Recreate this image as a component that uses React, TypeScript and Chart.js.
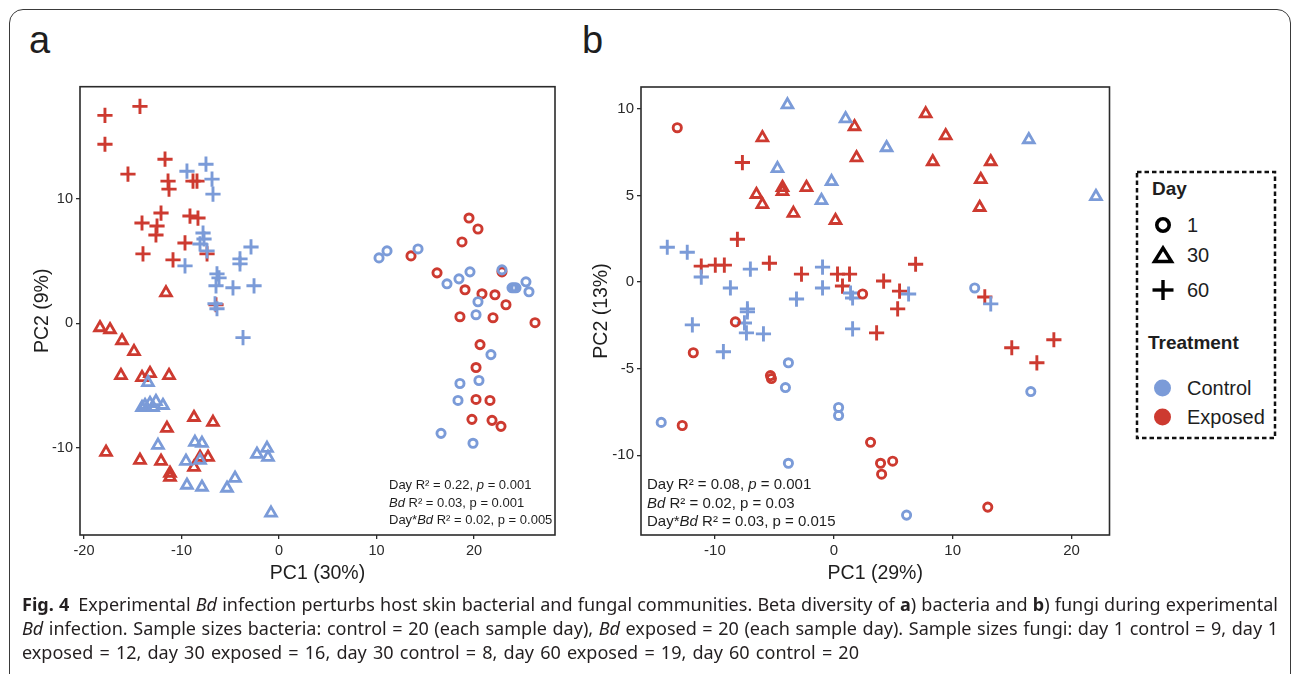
import React, { useEffect, useRef, useLayoutEffect, useState } from 'react';
import { Chart, registerables } from 'chart.js';

Chart.register(...registerables);

type Pt = [number, number];

const CONTROL_COLOR = '#7B9BD8';
const EXPOSED_COLOR = '#CD3A30';
const FONT = "'Liberation Sans', Arial, Helvetica, sans-serif";
const INK = '#1e1e1e';

// ---------- tick labels ----------
const bacXTicks = [-20, -10, 0, 10, 20];
const bacYTicks = [-10, 0, 10];
const funXTicks = [-10, 0, 10, 20];
const funYTicks = [-10, -5, 0, 5, 10];

// ---------- panel a: bacteria ----------
const bacControlDay1: Pt[] = [
  [10.26, 5.26], [11.08, 5.82], [14.26, 5.98], [17.23, 3.18], [18.46, 3.58],
  [19.59, 4.14], [22.87, 4.3], [23.9, 2.86], [24.31, 2.86], [25.33, 3.34],
  [25.64, 2.54], [20.41, 1.74], [20.21, 0.7], [21.74, -2.5], [20.51, -4.58],
  [18.56, -4.82], [18.36, -6.18], [16.62, -8.82], [19.9, -9.62], [24.1, 2.86],
];
const bacExposedDay1: Pt[] = [
  [19.49, 8.46], [20.41, 7.58], [18.77, 6.54], [13.54, 5.42], [16.21, 4.06],
  [22.87, 4.14], [19.08, 2.7], [20.82, 2.38], [22.15, 2.3], [23.28, 1.5],
  [18.56, 0.54], [21.95, 0.46], [26.26, 0.06], [20.62, -1.7], [20.21, -3.54],
  [20.21, -6.1], [21.64, -6.18], [19.79, -7.7], [21.85, -7.78], [22.77, -8.26],
];
const bacControlDay30: Pt[] = [
  [-13.44, -4.74], [-13.74, -6.58], [-13.23, -6.42], [-12.62, -6.26], [-11.9, -6.58],
  [-12.41, -9.78], [-8.62, -9.54], [-7.9, -9.62], [-9.54, -11.06], [-8.1, -10.98],
  [-9.44, -12.98], [-7.9, -13.14], [-4.51, -12.42], [-5.33, -13.22], [-2.26, -10.5],
  [-1.23, -10.02], [-1.13, -10.74], [-0.82, -15.22], [-14.05, -6.74], [-12.92, -6.74],
];
const bacExposedDay30: Pt[] = [
  [-11.59, 2.46], [-18.36, -0.34], [-17.33, -0.5], [-16.1, -1.38], [-14.87, -2.26],
  [-16.21, -4.18], [-14.05, -4.34], [-13.23, -4.02], [-11.28, -4.18], [-8.72, -7.54],
  [-6.77, -7.94], [-11.49, -8.42], [-17.74, -10.34], [-14.26, -10.98], [-12.1, -11.06],
  [-8.72, -11.54], [-8.1, -10.74], [-7.28, -10.74], [-11.18, -12.34], [-11.18, -12.02],
];
const bacControlDay60: Pt[] = [
  [-9.44, 12.22], [-7.49, 12.78], [-6.87, 11.58], [-6.77, 10.38], [-7.79, 7.26],
  [-8.1, 6.38], [-7.38, 5.82], [-9.64, 4.62], [-4.0, 5.18], [-2.87, 6.14],
  [-4.0, 4.78], [-6.36, 3.98], [-6.15, 3.66], [-6.46, 3.02], [-4.72, 2.86],
  [-2.56, 3.02], [-6.56, 1.58], [-6.36, 1.18], [-3.69, -1.14], [-7.69, 6.78],
];
const bacExposedDay60: Pt[] = [
  [-17.85, 16.7], [-14.26, 17.42], [-17.85, 14.38], [-11.69, 13.18], [-15.49, 11.98],
  [-11.38, 11.42], [-11.28, 10.78], [-8.82, 11.42], [-8.41, 11.42], [-12.1, 8.86],
  [-14.05, 8.06], [-12.51, 7.82], [-12.62, 7.1], [-9.13, 8.62], [-8.31, 8.46],
  [-9.64, 6.46], [-7.38, 5.58], [-13.95, 5.58], [-10.87, 5.1], [-6.46, 1.5],
];

// ---------- panel b: fungi ----------
const funControlDay1: Pt[] = [
  [-3.82, -4.66], [-4.07, -6.09], [-14.52, -8.1], [0.4, -7.24], [0.4, -7.7],
  [-3.82, -10.46], [11.85, -0.34], [16.57, -6.32], [6.12, -13.45],
];
const funExposedDay1: Pt[] = [
  [-13.17, 8.91], [-8.28, -2.3], [-11.82, -4.08], [-5.33, -5.4], [-5.25, -5.57],
  [-12.75, -8.28], [2.42, -0.69], [3.09, -9.25], [3.93, -10.46], [4.95, -10.34],
  [4.02, -11.09], [12.95, -12.99],
];
const funControlDay30: Pt[] = [
  [-3.9, 10.23], [0.99, 9.43], [-4.74, 6.55], [-0.19, 5.8], [-1.04, 4.71],
  [4.44, 7.76], [16.4, 8.22], [22.05, 4.94],
];
const funExposedDay30: Pt[] = [
  [-6.01, 8.33], [-4.32, 5.46], [-4.32, 5.23], [-6.51, 5.06], [-6.01, 4.48],
  [-2.3, 5.46], [-3.4, 3.97], [0.14, 3.56], [1.74, 8.97], [1.91, 7.18],
  [7.73, 9.71], [9.41, 8.45], [8.32, 6.95], [13.2, 6.95], [12.36, 5.92], [12.27, 4.31],
];
const funControlDay60: Pt[] = [
  [-14.01, 2.01], [-12.33, 1.72], [-11.15, 0.29], [-8.7, -0.34], [-7.02, 0.75],
  [-0.95, 0.86], [-0.95, -0.34], [-3.14, -0.98], [-7.27, -1.55], [1.58, -0.92],
  [-11.9, -2.47], [-7.35, -2.93], [-5.92, -2.99], [-9.29, -4.02], [1.58, -2.7],
  [6.29, -0.69], [13.2, -1.26], [-7.27, -1.72], [1.41, -0.63], [-7.52, -2.36],
];
const funExposedDay60: Pt[] = [
  [-7.69, 6.9], [-8.11, 2.47], [-11.15, 0.92], [-9.97, 0.98], [-9.21, 0.98],
  [-5.42, 1.09], [-2.72, 0.46], [0.31, 0.46], [1.32, 0.46], [0.73, -0.23],
  [6.88, 1.03], [4.19, 0.06], [5.53, -0.52], [5.37, -1.55], [12.7, -0.86],
  [3.6, -2.93], [14.97, -3.79], [17.08, -4.66], [18.51, -3.33],
];

type Day = 'd1' | 'd30' | 'd60';
const MARKERS: Record<Day, { style: string; radius: number; width: number }> = {
  d1: { style: 'circle', radius: 4.1, width: 2.9 },
  d30: { style: 'triangle', radius: 6.2, width: 2.8 },
  d60: { style: 'cross', radius: 7.6, width: 2.9 },
};

type Group = { label: string; day: Day; color: string; points: Pt[] };

const bacGroups: Group[] = [
  { label: 'Control day 1', day: 'd1', color: CONTROL_COLOR, points: bacControlDay1 },
  { label: 'Exposed day 1', day: 'd1', color: EXPOSED_COLOR, points: bacExposedDay1 },
  { label: 'Control day 30', day: 'd30', color: CONTROL_COLOR, points: bacControlDay30 },
  { label: 'Exposed day 30', day: 'd30', color: EXPOSED_COLOR, points: bacExposedDay30 },
  { label: 'Control day 60', day: 'd60', color: CONTROL_COLOR, points: bacControlDay60 },
  { label: 'Exposed day 60', day: 'd60', color: EXPOSED_COLOR, points: bacExposedDay60 },
];
const funGroups: Group[] = [
  { label: 'Control day 1', day: 'd1', color: CONTROL_COLOR, points: funControlDay1 },
  { label: 'Exposed day 1', day: 'd1', color: EXPOSED_COLOR, points: funExposedDay1 },
  { label: 'Control day 30', day: 'd30', color: CONTROL_COLOR, points: funControlDay30 },
  { label: 'Exposed day 30', day: 'd30', color: EXPOSED_COLOR, points: funExposedDay30 },
  { label: 'Control day 60', day: 'd60', color: CONTROL_COLOR, points: funControlDay60 },
  { label: 'Exposed day 60', day: 'd60', color: EXPOSED_COLOR, points: funExposedDay60 },
];

const framePlugin = {
  id: 'frame',
  afterDraw(chart: any) {
    const { ctx, chartArea } = chart;
    const { left, top, right, bottom } = chartArea;
    ctx.save();
    ctx.strokeStyle = '#2b2b2b';
    ctx.lineWidth = 1.6;
    ctx.strokeRect(left, top, right - left, bottom - top);
    ctx.restore();
  },
};

type PanelProps = {
  left: number; top: number; width: number; height: number;
  groups: Group[];
  xMin: number; xMax: number; yMin: number; yMax: number;
  xTicks: number[]; yTicks: number[];
  xTitle: string; yTitle: string;
  yAxisWidth: number; xAxisHeight: number;
  padTop: number; padRight: number;
  tickSize: number; titleSize: number;
  yTitlePad: number; xTitlePad: number;
};

function ScatterPanel(p: PanelProps) {
  const ref = useRef<HTMLCanvasElement>(null);
  useEffect(() => {
    if (!ref.current) return;
    const axisCommon = {
      type: 'linear' as const,
      grid: { drawOnChartArea: false, drawTicks: true, tickLength: 4, color: '#2b2b2b', lineWidth: 1.3 },
      border: { display: false },
    };
    const chart = new Chart(ref.current, {
      type: 'scatter',
      data: {
        datasets: p.groups.map((g) => ({
          label: g.label,
          data: g.points.map(([x, y]) => ({ x, y })),
          pointStyle: MARKERS[g.day].style as any,
          pointRadius: MARKERS[g.day].radius,
          pointHoverRadius: MARKERS[g.day].radius,
          pointBorderWidth: MARKERS[g.day].width,
          pointHoverBorderWidth: MARKERS[g.day].width,
          pointBorderColor: g.color,
          pointBackgroundColor: 'rgba(0,0,0,0)',
          borderColor: g.color,
          backgroundColor: 'rgba(0,0,0,0)',
          showLine: false,
        })),
      },
      options: {
        animation: false,
        responsive: false,
        devicePixelRatio: 1,
        events: [],
        layout: { padding: { top: p.padTop, right: p.padRight, left: 0, bottom: 0 } },
        plugins: { legend: { display: false }, tooltip: { enabled: false } },
        scales: {
          x: {
            ...axisCommon,
            position: 'bottom',
            min: p.xMin,
            max: p.xMax,
            afterBuildTicks: (s: any) => { s.ticks = p.xTicks.map((v) => ({ value: v })); },
            afterFit: (s: any) => { s.height = p.xAxisHeight; },
            ticks: { color: '#2a2a2a', font: { family: FONT, size: p.tickSize }, padding: 3, maxRotation: 0, autoSkip: false },
            title: { display: true, text: p.xTitle, color: INK, font: { family: FONT, size: p.titleSize }, padding: { top: 0, bottom: p.xTitlePad } },
          },
          y: {
            ...axisCommon,
            position: 'left',
            min: p.yMin,
            max: p.yMax,
            afterBuildTicks: (s: any) => { s.ticks = p.yTicks.map((v) => ({ value: v })); },
            afterFit: (s: any) => { s.width = p.yAxisWidth; },
            ticks: { color: '#2a2a2a', font: { family: FONT, size: p.tickSize }, padding: 3, autoSkip: false },
            title: { display: true, text: p.yTitle, color: INK, font: { family: FONT, size: p.titleSize }, padding: { top: p.yTitlePad, bottom: 0 } },
          },
        },
      } as any,
      plugins: [framePlugin],
    });
    return () => chart.destroy();
  }, []);
  return (
    <canvas
      ref={ref}
      width={p.width}
      height={p.height}
      style={{ position: 'absolute', left: p.left, top: p.top, width: p.width, height: p.height }}
    />
  );
}

const CAPTION_FONT = "'Noto Sans', 'Open Sans', sans-serif";
const captionLine1 = 'Fig. 4\u2002Experimental Bd infection perturbs host skin bacterial and fungal communities. Beta diversity of a) bacteria and b) fungi during experimental';
const captionLine2 = 'Bd infection. Sample sizes bacteria: control = 20 (each sample day), Bd exposed = 20 (each sample day). Sample sizes fungi: day 1 control = 9, day 1';
const captionLine3 = 'exposed = 12, day 30 exposed = 16, day 30 control = 8, day 60 exposed = 19, day 60 control = 20';

function Caption() {
  const [size, setSize] = useState(15.5);
  useLayoutEffect(() => {
    const c = document.createElement('canvas').getContext('2d');
    if (!c) return;
    c.font = `16px ${CAPTION_FONT}`;
    const w3 = c.measureText(captionLine3).width;
    const w1 = c.measureText(captionLine1).width;
    const w2 = c.measureText(captionLine2).width;
    const s3 = (16 * 837) / w3;
    const s1 = (16 * 1246) / w1;
    const s2 = (16 * 1246) / w2;
    setSize(Math.min(s3, s1, s2));
  }, []);
  const lineStyle: React.CSSProperties = {
    height: 24, lineHeight: '24px', textAlign: 'justify', textAlignLast: 'justify' as any, whiteSpace: 'nowrap',
  };
  return (
    <div style={{ position: 'absolute', left: 22, top: 592, width: 1256, fontFamily: CAPTION_FONT, fontSize: size, color: '#231f20' }}>
      <div style={{ ...lineStyle, width: 1256 }}>
        <b>Fig. 4</b>{'\u2002'}Experimental <i>Bd</i> infection perturbs host skin bacterial and fungal communities. Beta diversity of <b>a</b>) bacteria and <b>b</b>) fungi during experimental
      </div>
      <div style={{ ...lineStyle, width: 1256 }}>
        <i>Bd</i> infection. Sample sizes bacteria: control = 20 (each sample day), <i>Bd</i> exposed = 20 (each sample day). Sample sizes fungi: day 1 control = 9, day 1
      </div>
      <div style={{ ...lineStyle, width: 837 }}>
        exposed = 12, day 30 exposed = 16, day 30 control = 8, day 60 exposed = 19, day 60 control = 20
      </div>
    </div>
  );
}

function Legend() {
  const label: React.CSSProperties = { position: 'absolute', fontFamily: FONT, fontSize: 20, lineHeight: '24px', color: INK, whiteSpace: 'nowrap' };
  const head: React.CSSProperties = { ...label, fontWeight: 'bold', fontSize: 19 };
  return (
    <>
      <svg style={{ position: 'absolute', left: 1130, top: 165, overflow: 'visible' }} width={155} height={285}>
        <rect x={7} y={7} width={138} height={266} fill="none" stroke="#111" strokeWidth={2.5} strokeDasharray="4.5 3" />
        <circle cx={33} cy={60} r={6.2} fill="none" stroke="#000" strokeWidth={3.6} />
        <polygon points="33,83 41.5,96.5 24.5,96.5" fill="none" stroke="#000" strokeWidth={3.4} strokeLinejoin="miter" />
        <line x1={22.5} y1={125} x2={43.5} y2={125} stroke="#000" strokeWidth={3.4} />
        <line x1={33} y1={115} x2={33} y2={135} stroke="#000" strokeWidth={3.4} />
        <circle cx={32.5} cy={223} r={8.5} fill={CONTROL_COLOR} />
        <circle cx={32.5} cy={252} r={8.5} fill={EXPOSED_COLOR} />
      </svg>
      <div style={{ ...head, left: 1152, top: 177 }}>Day</div>
      <div style={{ ...label, left: 1187, top: 213 }}>1</div>
      <div style={{ ...label, left: 1187, top: 243 }}>30</div>
      <div style={{ ...label, left: 1187, top: 278 }}>60</div>
      <div style={{ ...head, left: 1148, top: 331 }}>Treatment</div>
      <div style={{ ...label, left: 1187, top: 376 }}>Control</div>
      <div style={{ ...label, left: 1187, top: 405 }}>Exposed</div>
    </>
  );
}

export default function App() {
  const noteA: React.CSSProperties = { position: 'absolute', left: 389, top: 476, fontFamily: FONT, fontSize: 13, lineHeight: '17.5px', color: INK, whiteSpace: 'nowrap' };
  const noteB: React.CSSProperties = { position: 'absolute', left: 647, top: 475, fontFamily: FONT, fontSize: 15, lineHeight: '18.5px', color: INK, whiteSpace: 'nowrap' };
  const panelLabel: React.CSSProperties = { position: 'absolute', top: 21, fontFamily: FONT, fontSize: 38, lineHeight: '38px', color: INK };
  return (
    <div style={{ position: 'fixed', left: 0, top: 0, width: 1293, height: 674, overflow: 'hidden', background: '#fff' }}>
      <div style={{ position: 'absolute', left: 9, top: 9, width: 1282, height: 720, border: '1.5px solid #3a3a3a', borderRadius: 14, boxSizing: 'border-box' }} />
      <div style={{ ...panelLabel, left: 29 }}>a</div>
      <div style={{ ...panelLabel, left: 582 }}>b</div>
      <ScatterPanel
        left={10} top={75} width={560} height={520}
        groups={bacGroups}
        xMin={-20.41} xMax={28.31} yMin={-16.98} yMax={19.0}
        xTicks={bacXTicks} yTicks={bacYTicks}
        xTitle="PC1 (30%)" yTitle="PC2 (9%)"
        yAxisWidth={70} xAxisHeight={60}
        padTop={10} padRight={15}
        tickSize={14.5} titleSize={19.5}
        yTitlePad={21} xTitlePad={10}
      />
      <ScatterPanel
        left={570} top={75} width={550} height={520}
        groups={funGroups}
        xMin={-16.22} xMax={23.19} yMin={-14.6} yMax={11.26}
        xTicks={funXTicks} yTicks={funYTicks}
        xTitle="PC1 (29%)" yTitle="PC2 (13%)"
        yAxisWidth={71} xAxisHeight={60}
        padTop={10} padRight={10}
        tickSize={15} titleSize={19.5}
        yTitlePad={20} xTitlePad={10}
      />
      <div style={noteA}>
        <div>Day R² = 0.22, <i>p</i> = 0.001</div>
        <div><i>Bd</i> R² = 0.03, p = 0.001</div>
        <div>Day*<i>Bd</i> R² = 0.02, p = 0.005</div>
      </div>
      <div style={noteB}>
        <div>Day R² = 0.08, <i>p</i> = 0.001</div>
        <div><i>Bd</i> R² = 0.02, p = 0.03</div>
        <div>Day*<i>Bd</i> R² = 0.03, p = 0.015</div>
      </div>
      <Legend />
      <Caption />
    </div>
  );
}
